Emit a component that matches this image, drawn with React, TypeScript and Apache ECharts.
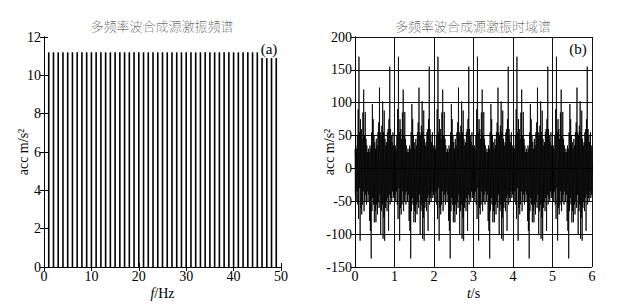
import React, { useEffect, useRef } from "react";
import * as echarts from "echarts";

// (a) spectrum: component frequencies (Hz) and amplitudes (m/s^2)
const spectrumFreqs = [
  1, 2, 3, 4, 5, 6, 7, 8, 9, 10, 11, 12, 13, 14, 15, 16, 17, 18, 19, 20, 21, 22, 23, 24, 25,
  26, 27, 28, 29, 30, 31, 32, 33, 34, 35, 36, 37, 38, 39, 40, 41, 42, 43, 44, 45, 46, 47, 48, 49,
];
const spectrumAmps = [
  11.2, 11.2, 11.2, 11.2, 11.2, 11.2, 11.2, 11.2, 11.2, 11.2, 11.2, 11.2, 11.2, 11.2, 11.2,
  11.2, 11.2, 11.2, 11.2, 11.2, 11.2, 11.2, 11.2, 11.2, 11.2, 11.2, 11.2, 11.2, 11.2, 11.2,
  11.2, 11.2, 11.2, 11.2, 11.2, 11.2, 11.2, 11.2, 11.2, 11.2, 11.2, 11.2, 11.2, 11.2, 11.2,
  10.9, 10.9, 10.9, 10.9,
];

// the signal is periodic (1 Hz fundamental) and shown for 6 periods
const samplesPerSecond = 100;
const durationSeconds = 6;
const accPeriod = [
  30, -40, 35, -50, 30, -35, 50, -55, 90, -77,
  170, -30, 55, -110, 75, -60, 60, -70, 45, -55,
  85, -35, 120, -65, 50, -50, 86, -40, 45, -55,
  35, -35, 25, -50, 30, -40, 25, -80, 35, -95,
  30, -137, 55, -65, 98, -45, 75, -55, 50, -82,
  40, -65, 30, -82, 45, -55, 35, -70, 55, -50,
  70, -60, 123, -40, 55, -100, 50, -65, 65, -55,
  102, -107, 55, -75, 88, -110, 45, -60, 35, -50,
  40, -65, 55, -45, 60, -95, 75, -40, 155, -55,
  60, -45, 50, -50, 40, -35, 55, -45, 35, -40,
];

// axis ticks
const specXTicks = { min: 0, max: 50, interval: 10 };
const specYTicks = { min: 0, max: 12, interval: 2 };
const timeXTicks = { min: 0, max: 6, interval: 1 };
const timeYTicks = { min: -150, max: 200, interval: 50 };

const titleA = "多频率波合成源激振频谱";
const titleB = "多频率波合成源激振时域谱";
const yName = "acc m/s²";

const SERIF = "Liberation Serif";
const CJK = "Noto Sans CJK SC";

export default function App() {
  const ref = useRef<HTMLDivElement>(null);

  useEffect(() => {
    if (!ref.current) return;
    const chart = echarts.init(ref.current, undefined, { renderer: "svg" });

    const spectrumData = spectrumFreqs.map((f, i) => [f, spectrumAmps[i]]);
    const timeData: number[][] = [];
    const n = samplesPerSecond * durationSeconds;
    for (let i = 0; i <= n; i++) {
      timeData.push([i / samplesPerSecond, accPeriod[i % accPeriod.length]]);
    }

    const axisLine = { show: true, lineStyle: { color: "#000", width: 1 } };
    const tickIn = { show: true, inside: true, length: 4, lineStyle: { color: "#000", width: 1 } };
    const labelStyle = { color: "#000", fontFamily: SERIF, fontSize: 14 };
    const grid = { lineStyle: { color: "#111", width: 1 } };

    const mkX = (gi: number, t: any, pos: "bottom" | "top", name?: string, split?: boolean) => ({
      type: "value",
      gridIndex: gi,
      position: pos,
      min: t.min,
      max: t.max,
      interval: t.interval,
      axisLine,
      axisTick: tickIn,
      axisLabel: pos === "bottom" ? { ...labelStyle, margin: 2 } : { show: false },
      splitLine: split && pos === "bottom" ? { show: true, ...grid } : { show: false },
      name: name,
      nameLocation: "middle",
      nameGap: 19,
      nameMoveOverlap: false,
      nameTextStyle: {
        color: "#000",
        fontFamily: SERIF,
        fontSize: 14,
        lineHeight: 14,
        rich: { i: { fontStyle: "italic", fontFamily: SERIF, fontSize: 14, lineHeight: 14, color: "#000" } },
      },
    });
    const mkY = (gi: number, t: any, pos: "left" | "right", name?: string, gap?: number, split?: boolean) => ({
      type: "value",
      gridIndex: gi,
      position: pos,
      min: t.min,
      max: t.max,
      interval: t.interval,
      axisLine,
      axisTick: tickIn,
      axisLabel: pos === "left" ? { ...labelStyle, margin: 3 } : { show: false },
      splitLine: split && pos === "left" ? { show: true, ...grid } : { show: false },
      name: name,
      nameLocation: "middle",
      nameGap: gap ?? 20,
      nameMoveOverlap: false,
      nameTextStyle: { color: "#000", fontFamily: SERIF, fontSize: 14 },
    });

    chart.setOption({
      animation: false,
      backgroundColor: "#fff",
      grid: [
        { left: 44, top: 37, width: 237, height: 230 },
        { left: 355, top: 37, width: 237, height: 230 },
      ],
      xAxis: [
        mkX(0, specXTicks, "bottom", "{i|f}/Hz"),
        mkX(0, specXTicks, "top"),
        mkX(1, timeXTicks, "bottom", "{i|t}/s", true),
        mkX(1, timeXTicks, "top"),
      ],
      yAxis: [
        mkY(0, specYTicks, "left", yName, 14),
        mkY(0, specYTicks, "right"),
        mkY(1, timeYTicks, "left", yName, 19, true),
        mkY(1, timeYTicks, "right"),
      ],
      series: [
        {
          type: "bar",
          xAxisIndex: 0,
          yAxisIndex: 0,
          data: spectrumData,
          barWidth: 1.6,
          itemStyle: { color: "#000" },
          silent: true,
        },
        {
          type: "line",
          xAxisIndex: 2,
          yAxisIndex: 2,
          data: timeData,
          showSymbol: false,
          symbol: "none",
          lineStyle: { color: "#000", width: 0.8 },
          silent: true,
        },
      ],
      graphic: [
        {
          type: "text",
          x: 162,
          y: 25,
          style: { text: titleA, fill: "#333", font: `lighter 13px "${CJK}"`, textAlign: "center", textVerticalAlign: "middle" },
        },
        {
          type: "text",
          x: 473,
          y: 25,
          style: { text: titleB, fill: "#333", font: `lighter 13px "${CJK}"`, textAlign: "center", textVerticalAlign: "middle" },
        },
        {
          type: "text",
          x: 269,
          y: 49,
          style: { text: "(a)", fill: "#000", font: `15px "${SERIF}"`, textAlign: "center", textVerticalAlign: "middle" },
        },
        {
          type: "text",
          x: 578,
          y: 49,
          style: { text: "(b)", fill: "#000", font: `15px "${SERIF}"`, textAlign: "center", textVerticalAlign: "middle" },
        },
      ],
    });

    return () => chart.dispose();
  }, []);

  return (
    <div
      ref={ref}
      style={{ position: "fixed", left: 0, top: 0, width: 623, height: 305, background: "#fff" }}
    />
  );
}
